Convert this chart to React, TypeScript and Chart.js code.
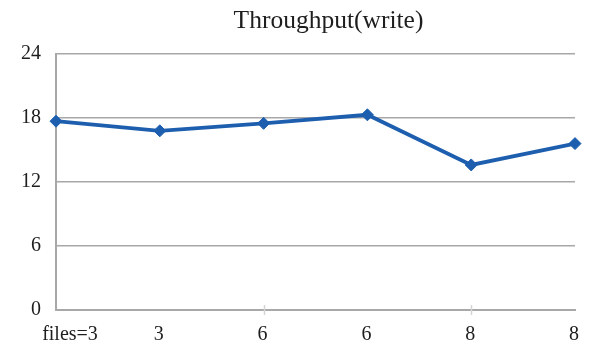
import React, { useEffect, useRef } from "react";
import { Chart, registerables } from "chart.js";

Chart.register(...registerables);

const chartTitle = "Throughput(write)";
const categories = ["files=3", "3", "6", "6", "8", "8"];
const throughput = [17.7, 16.8, 17.5, 18.3, 13.6, 15.6];
const yMin = 0;
const yMax = 24;
const yStep = 6;

const FONT = "'Liberation Serif', 'Times New Roman', serif";
const TEXT = "#1e1e1e";
const GRID = "#a8a8a8";
const LINE = "#1d5fae";

// Title plus category labels and the small x-axis tick marks
const overlay = {
  id: "overlay",
  afterDraw(chart: any) {
    const { ctx, chartArea, scales } = chart;
    const x = scales.x;
    ctx.save();
    ctx.fillStyle = TEXT;
    ctx.font = `25.5px ${FONT}`;
    ctx.textAlign = "center";
    ctx.textBaseline = "middle";
    ctx.fillText(chartTitle, (chartArea.left + chartArea.right) / 2 + 13, 21);

    ctx.font = `20px ${FONT}`;
    categories.forEach((label, i) => {
      const px = x.getPixelForValue(i);
      const shift = i === 0 ? 14 : -1;
      ctx.fillText(label, px + shift, chartArea.bottom + 25);
    });

    ctx.strokeStyle = "#d4d4d4";
    ctx.lineWidth = 1.5;
    [2, 4].forEach((i) => {
      const px = Math.round(x.getPixelForValue(i)) + 0.5;
      ctx.beginPath();
      ctx.moveTo(px, chartArea.bottom - 5);
      ctx.lineTo(px, chartArea.bottom + 5);
      ctx.stroke();
    });
    ctx.restore();
  },
};

export default function App() {
  const ref = useRef<HTMLCanvasElement | null>(null);

  useEffect(() => {
    if (!ref.current) return;
    const chart = new Chart(ref.current, {
      type: "line",
      data: {
        labels: categories,
        datasets: [
          {
            data: throughput,
            borderColor: LINE,
            backgroundColor: LINE,
            borderWidth: 3.8,
            pointStyle: "rectRot",
            pointRadius: 6,
            pointBorderWidth: 1,
            tension: 0,
          },
        ],
      },
      options: {
        animation: false,
        responsive: false,
        layout: { padding: { top: 54, right: 39, left: 0, bottom: 0 } },
        plugins: {
          legend: { display: false },
          title: { display: false },
          tooltip: { enabled: false },
        },
        scales: {
          x: {
            offset: false,
            grid: { display: false, drawTicks: false },
            border: { display: true, color: GRID, width: 2 },
            ticks: { display: false },
            afterFit: (s: any) => {
              s.height = 37;
            },
          },
          y: {
            min: yMin,
            max: yMax,
            ticks: {
              stepSize: yStep,
              color: TEXT,
              font: { family: FONT, size: 20 },
              padding: 15,
            },
            grid: { color: GRID, lineWidth: 1.5, drawTicks: false },
            border: { display: true, color: GRID, width: 2 },
            afterFit: (s: any) => {
              s.width = 56;
            },
          },
        },
      },
      plugins: [overlay],
    });
    return () => chart.destroy();
  }, []);

  return (
    <div style={{ position: "absolute", left: 0, top: 0, width: 614, height: 347, background: "#fff" }}>
      <canvas ref={ref} width={614} height={347} />
    </div>
  );
}
